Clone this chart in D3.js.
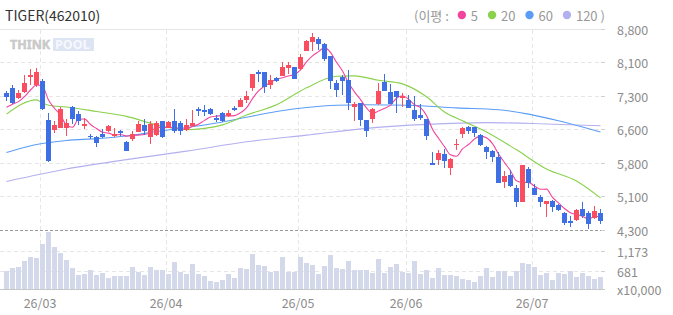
<!DOCTYPE html>
<html>
<head>
<meta charset="utf-8">
<script src="https://cdn.jsdelivr.net/npm/d3@7"></script>
<style>
  body { margin: 0; background: #fff; }
  svg { display: block; font-family: "Noto Sans CJK KR", "Noto Sans", sans-serif; }
</style>
</head>
<body>
<div id="chart"></div>
<script>
// Daily prices (won), one per trading day, Feb..Jul 2026
const opens = [
  7380,7490,7270,7400,7740,7550,7640,6770,6550,6590,
  6600,7070,6910,6640,6410,6380,6460,6520,6420,6520,
  6280,6340,6510,6650,6390,6440,6750,6600,6750,6700,
  6540,6630,7020,6990,7020,6810,6930,6860,7040,7060,
  7220,7490,7850,7850,7560,7710,7760,7940,7960,7910,
  8320,8520,8590,8480,8200,7600,7730,7670,7060,7150,
  6770,6790,7130,7620,7400,7420,7260,7220,6990,6880,
  6790,5800,5870,6010,5690,6220,6460,6610,6610,6430,
  6160,6070,5940,5380,5540,5240,4930,5670,5240,5040,
  4880,4950,4860,4680,4500,4530,4770,4680,4570,4680
];
const highs = [
  7430,7560,7440,7770,7910,7940,7690,6930,6750,7050,
  6790,7080,6980,6810,6460,6420,6560,6650,6580,6550,
  6290,6520,6750,6790,6750,6750,6750,6750,7010,6750,
  6790,6990,7070,7110,7040,6880,6940,6990,7080,7270,
  7420,7810,7890,7850,7780,7730,8070,8070,7960,8250,
  8560,8720,8630,8500,8200,7670,7780,7890,7180,7150,
  6770,7040,7600,7800,7580,7420,7380,7330,7310,7130,
  6790,6050,6100,6120,5920,6340,6610,6640,6610,6460,
  6190,6100,6050,5630,5650,5310,5760,5710,5330,5090,
  4950,4970,4880,4710,4620,4770,4930,4730,4840,4770
];
const lows = [
  7200,7130,7240,7380,7560,7520,7000,5830,6480,6580,
  6410,6680,6650,6570,6340,6170,6370,6510,6380,6410,
  6070,6290,6500,6440,6240,6400,6370,6590,6480,6430,
  6530,6610,6850,6850,6880,6720,6730,6840,6970,7050,
  7150,7420,7620,7380,7470,7620,7750,7800,7690,7900,
  8310,8320,8340,8090,7470,7290,7330,6990,6750,6640,
  6390,6700,7110,7420,7130,6930,7060,7030,6750,6770,
  6320,5760,5760,5690,5540,6100,6370,6460,6390,6190,
  5890,5830,5360,5240,5270,4820,4930,5240,5090,4820,
  4590,4710,4730,4410,4370,4510,4570,4320,4550,4440
];
const closes = [
  7290,7160,7380,7590,7790,7850,7020,5850,6650,7020,
  6710,6800,6750,6680,6400,6260,6390,6640,6460,6470,
  6080,6460,6680,6530,6680,6700,6390,6720,6520,6530,
  6660,6700,6970,6940,6900,6770,6750,6930,6990,7220,
  7310,7800,7800,7510,7670,7640,7960,8000,7690,8180,
  8540,8630,8480,8140,7640,7440,7640,7150,7130,6770,
  6520,7020,7420,7420,7130,7290,7310,7040,6790,6810,
  6410,5760,6030,5850,5890,6240,6590,6520,6480,6210,
  6050,5940,5360,5510,5290,4930,5760,5360,5090,4930,
  4950,4820,4750,4460,4460,4750,4620,4440,4730,4500
];
// closes of the four days before the window (for the 5-day average)
const prevCloses = [6820, 7085, 7035, 7045];

// Volume, x10,000 shares
const volumes = [
  681,755,779,927,1025,1001,1345,1640,1271,1124,
  952,755,583,607,706,583,632,509,558,550,
  558,779,664,583,779,706,706,607,902,656,
  607,853,607,558,435,410,460,607,509,755,
  730,1099,829,804,656,681,1025,656,656,1025,
  878,829,607,804,1075,755,730,927,706,706,
  706,632,976,632,779,853,656,632,927,607,
  706,509,755,583,583,558,484,460,410,558,
  755,533,681,681,558,681,878,853,779,583,
  632,460,632,607,681,533,632,558,484,533
];

// Longer moving averages at these day indexes
const ma20Idx = [0,5,6,7,10,15,20,25,30,33,36,40,45,50,55,58,62,66,70,73,76,80,85,90,95,99];
const ma20Vals = [6900,7220,7150,7100,7060,6960,6850,6660,6550,6580,6660,6880,7110,7490,7750,7760,7660,7580,7290,6950,6750,6500,6100,5670,5400,5020];
const ma60Idx = [0,5,10,15,20,25,30,35,40,45,50,55,60,67,75,82,87,92,96,99];
const ma60Vals = [6040,6220,6310,6350,6410,6510,6600,6700,6830,6960,7050,7100,7110,7100,7040,7000,6900,6750,6610,6500];
const ma120Idx = [0,10,20,30,40,50,60,70,80,90,99];
const ma120Vals = [5390,5670,5880,6070,6280,6430,6580,6670,6710,6680,6640];

// Axis ticks
const priceTicks = [8800, 8050, 7300, 6550, 5800, 5050, 4300];
const priceTickLabels = ["8,800","8,100","7,300","6,600","5,800","5,100","4,300"];
const volTicks = [1173, 681];
const volTickLabels = ["1,173", "681"];
const monthStartIdx = [6, 27, 49, 67, 88];
const monthLabels = ["26/03","26/04","26/05","26/06","26/07"];

const maPeriods = ["5", "20", "60", "120"];
const maColors = ["#f2449c", "#8ad14c", "#5b9df6", "#b3b0f0"];

const width = 673, height = 315;
const plotRight = 605;

const drawChart = () => {
  const svg = d3.select("#chart")
    .append("svg")
      .attr("width", width)
      .attr("height", height);

  const candles = opens.map((o, i) => ({
    i, open: o, high: highs[i], low: lows[i], close: closes[i], volume: volumes[i]
  }));

  // scales
  const xScale = d3.scaleBand()
    .domain(d3.range(candles.length))
    .range([3.5, 603.5])
    .paddingInner(1 / 6)
    .paddingOuter(1 / 12);
  const xMid = i => xScale(i) + xScale.bandwidth() / 2;

  const yScale = d3.scaleLinear()
    .domain([4300, 8800])
    .range([230, 29.5]);

  const volScale = d3.scaleLinear()
    .domain([240, 1690])
    .range([289, 230]);

  const crisp = v => Math.floor(v) + 0.5;

  /* grid */
  const grid = svg.append("g").attr("class", "grid");
  grid.selectAll("line.price")
    .data(priceTicks)
    .join("line")
      .attr("x1", 0).attr("x2", plotRight)
      .attr("y1", d => crisp(yScale(d))).attr("y2", d => crisp(yScale(d)))
      .attr("stroke", (d, i) => i === priceTicks.length - 1 ? "#9a9a9a" : "#e6e6e6")
      .attr("stroke-dasharray", (d, i) => i === 0 ? null : (i === priceTicks.length - 1 ? "3,2" : "4,3"));

  grid.selectAll("line.vol")
    .data(volTicks)
    .join("line")
      .attr("x1", 0).attr("x2", plotRight)
      .attr("y1", d => crisp(volScale(d))).attr("y2", d => crisp(volScale(d)))
      .attr("stroke", "#e6e6e6")
      .attr("stroke-dasharray", "4,3");

  grid.selectAll("line.month")
    .data(monthStartIdx)
    .join("line")
      .attr("x1", d => crisp(xScale(d))).attr("x2", d => crisp(xScale(d)))
      .attr("y1", 30).attr("y2", 289)
      .attr("stroke", "#e6e6e6")
      .attr("stroke-dasharray", "4,3");

  // volume baseline
  svg.append("line")
    .attr("x1", 0).attr("x2", plotRight)
    .attr("y1", 289.5).attr("y2", 289.5)
    .attr("stroke", "#c8c8c8");

  // watermark
  const wm = svg.append("g").attr("font-weight", "bold").attr("font-size", 12.5)
    .attr("font-family", "'Noto Sans', sans-serif");
  wm.append("rect")
    .attr("x", 53).attr("y", 38).attr("width", 41).attr("height", 13)
    .attr("fill", "#dde4f4");
  wm.append("text")
    .attr("x", 10).attr("y", 49)
    .attr("fill", "#cdcdcd")
    .attr("stroke", "#bdbdbd").attr("stroke-width", 0.4)
    .text("THINK");
  wm.append("text")
    .attr("x", 55).attr("y", 49)
    .attr("fill", "#f6f8fd")
    .text("POOL");

  /* volume bars */
  svg.append("g")
    .selectAll("rect")
    .data(candles)
    .join("rect")
      .attr("x", d => xScale(d.i))
      .attr("width", xScale.bandwidth())
      .attr("y", d => Math.round(volScale(d.volume)))
      .attr("height", d => 289 - Math.round(volScale(d.volume)))
      .attr("fill", "#d3d8ea");

  /* moving averages */
  const ma5 = candles.map((d, i) => {
    const all = prevCloses.concat(closes);
    const win = all.slice(i, i + 5);
    return { i, v: d3.mean(win) };
  });
  const toPts = (idx, vals) => idx.map((k, j) => ({ i: k, v: vals[j] }));
  const maSeries = [
    ma5,
    toPts(ma20Idx, ma20Vals),
    toPts(ma60Idx, ma60Vals),
    toPts(ma120Idx, ma120Vals)
  ];
  const lineGen = d3.line()
    .x(d => xMid(d.i))
    .y(d => yScale(d.v))
    .curve(d3.curveMonotoneX);

  svg.append("g")
    .attr("class", "ma-lines")
    .selectAll("path")
    .data(maSeries.slice().reverse())
    .join("path")
      .attr("d", lineGen)
      .attr("fill", "none")
      .attr("stroke", (d, k) => maColors[maSeries.length - 1 - k])
      .attr("stroke-width", 1.1);

  /* candles */
  const upColor = "#fa4d5f", downColor = "#3f6fe4";
  const candleG = svg.append("g")
    .attr("class", "candles")
    .selectAll("g")
    .data(candles)
    .join("g")
      .attr("fill", d => d.close >= d.open ? upColor : downColor)
      .attr("stroke", d => d.close >= d.open ? upColor : downColor);

  candleG.append("line")
    .attr("x1", d => xMid(d.i)).attr("x2", d => xMid(d.i))
    .attr("y1", d => Math.round(yScale(d.high)))
    .attr("y2", d => Math.round(yScale(d.low)))
    .attr("stroke-width", 1);

  candleG.append("rect")
    .attr("stroke", "none")
    .attr("x", d => xScale(d.i))
    .attr("width", xScale.bandwidth())
    .attr("y", d => Math.round(yScale(Math.max(d.open, d.close))))
    .attr("height", d => Math.max(1,
      Math.round(yScale(Math.min(d.open, d.close))) - Math.round(yScale(Math.max(d.open, d.close)))));

  /* right axis labels */
  const labelColor = "#8c8c8c";
  svg.append("g")
    .selectAll("text")
    .data(priceTicks)
    .join("text")
      .attr("x", 617)
      .attr("y", d => yScale(d))
      .attr("dominant-baseline", "central")
      .attr("font-size", 12.5)
      .attr("fill", labelColor)
      .text((d, i) => priceTickLabels[i]);

  svg.append("g")
    .selectAll("text")
    .data(volTicks)
    .join("text")
      .attr("x", 617)
      .attr("y", d => volScale(d))
      .attr("dominant-baseline", "central")
      .attr("font-size", 12.5)
      .attr("fill", labelColor)
      .text((d, i) => volTickLabels[i]);

  svg.append("text")
    .attr("x", 617).attr("y", 289)
    .attr("dominant-baseline", "central")
    .attr("font-size", 12.5)
    .attr("fill", labelColor)
    .text("x10,000");

  // little ticks on the right edge
  svg.append("g")
    .selectAll("line")
    .data(priceTicks.map(yScale).concat(volTicks.map(volScale)))
    .join("line")
      .attr("x1", 601).attr("x2", 605)
      .attr("y1", d => crisp(d)).attr("y2", d => crisp(d))
      .attr("stroke", "#d0d0d0");

  /* bottom month labels */
  svg.append("g")
    .selectAll("text")
    .data(monthStartIdx)
    .join("text")
      .attr("x", d => xScale(d))
      .attr("y", 302)
      .attr("text-anchor", "middle")
      .attr("dominant-baseline", "central")
      .attr("font-size", 12.5)
      .attr("fill", labelColor)
      .text((d, i) => monthLabels[i]);

  /* header */
  svg.append("text")
    .attr("x", 5).attr("y", 15)
    .attr("dominant-baseline", "central")
    .attr("font-size", 14)
    .attr("fill", "#333")
    .text("TIGER(462010)");

  const legend = svg.append("g")
    .attr("font-size", 13)
    .attr("fill", "#999");
  let cx = 414;
  const open = legend.append("text")
    .attr("x", cx).attr("y", 15)
    .attr("dominant-baseline", "central")
    .text("(이평 :");
  cx += open.node().getComputedTextLength() + 13;
  maPeriods.forEach((p, k) => {
    legend.append("circle")
      .attr("cx", cx).attr("cy", 15).attr("r", 4.2)
      .attr("fill", maColors[k]);
    const t = legend.append("text")
      .attr("x", cx + 9).attr("y", 15)
      .attr("dominant-baseline", "central")
      .text(p);
    cx = cx + 9 + t.node().getComputedTextLength() + 14;
  });
  legend.append("text")
    .attr("x", cx - 11).attr("y", 15)
    .attr("dominant-baseline", "central")
    .text(")");
};

drawChart();
</script>
</body>
</html>
